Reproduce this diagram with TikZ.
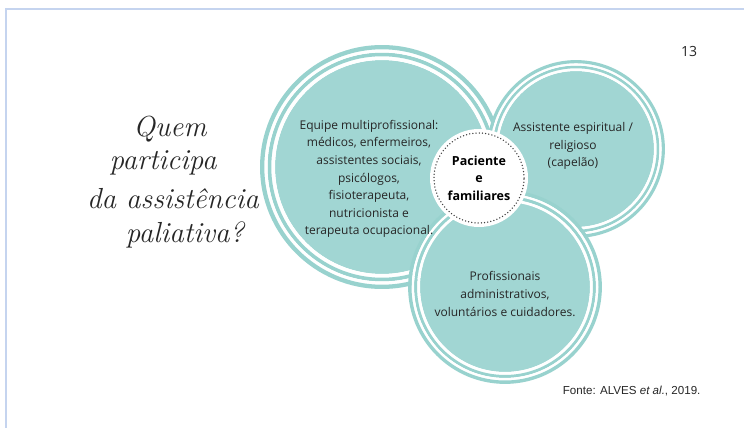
\documentclass[tikz,border=0pt]{standalone}
\usepackage{fontspec}
\usepackage{xcolor}
\setmainfont{Open Sans}
\newfontfamily\handfont{Latin Modern Roman}
\newfontfamily\notefont{Liberation Sans}
\definecolor{tealfill}{HTML}{A1D6D3}
\definecolor{tealring}{HTML}{98D2CE}
\definecolor{framecol}{HTML}{C5D4EF}
\definecolor{textgray}{HTML}{262626}
\usetikzlibrary{positioning,calc}

% white gap, thin ring, white gap, outer ring round a disc
\newcommand{\drawrings}[2]{%
  \draw[white, line width=0.035*#2pt] (#1) circle[radius=1.0175*#2pt];
  \draw[tealring, line width=0.035*#2pt] (#1) circle[radius=1.0525*#2pt];
  \draw[white, line width=0.03*#2pt] (#1) circle[radius=1.085*#2pt];
  \draw[tealring, line width=0.04*#2pt] (#1) circle[radius=1.12*#2pt];
}

\begin{document}
\begin{tikzpicture}[
    x=1pt, y=-1pt,
    disc/.style={circle, fill=tealfill, inner sep=0pt, text=textgray,
      align=center, font=\fontsize{12}{17.6}\selectfont},
    core/.style={circle, fill=white, inner sep=0pt, minimum size=98pt,
      align=center, text=black, font=\bfseries\fontsize{12.5}{17.4}\selectfont},
    hand/.style={font=\handfont\itshape\fontsize{29}{32}\selectfont, text=black!85},
    note/.style={font=\notefont\fontsize{11.6}{14}\selectfont, text=black!85},
  ]
    \useasboundingbox (0,0) rectangle (744,428);
    \fill[white] (0,0) rectangle (744,428);

    % Frame
    \draw[framecol, line width=2pt] (6,428) -- (6,9) -- (744,9);

    % Title
    \node[hand] (qline1) at (170,129) {Quem};
    \node[hand] (qline2) at (163,163) {participa};
    \node[hand] (qline3) at (173,199) {da assist\^encia};
    \node[hand] (qline4) at (185,235) {paliativa?};

    % Circles
    \node[disc, minimum size=214pt] (team) at (382,167) {};
    \drawrings{team}{107}
    \node[disc, minimum size=156pt] (chaplain) at (576,149) {};
    \drawrings{chaplain}{78}
    \node[disc, minimum size=170pt] (staff) at (505,287) {};
    \drawrings{staff}{85}

    % Texts
    \node[disc, fill=none] (teamtext) at (369,179)
      {Equipe multiprofissional:\\m\'edicos, enfermeiros,\\assistentes sociais,\\psic\'ologos,\\fisioterapeuta,\\nutricionista e\\terapeuta ocupacional.};
    \node[disc, fill=none] (chaplaintext) at (573,146)
      {Assistente espiritual /\\religioso\\(capel\~ao)};
    \node[disc, fill=none] (stafftext) at (505,294)
      {Profissionais\\administrativos,\\volunt\'arios e cuidadores.};

    % Centre
    \node[core] (patient) at (479,178) {Paciente\\e\\familiares};
    \draw[black!75, line width=1.5pt, line cap=round,
      dash pattern=on 0pt off 3.2pt] (patient) circle[radius=45pt];

    % Page number and source
    \node[font=\fontsize{14}{16}\selectfont, text=black!85] (pagenum) at (689,52) {13};
    \node[note, anchor=east] (source) at (704,391) {Fonte: ALVES \textit{et al.}, 2019.};
  \end{tikzpicture}
\end{document}
